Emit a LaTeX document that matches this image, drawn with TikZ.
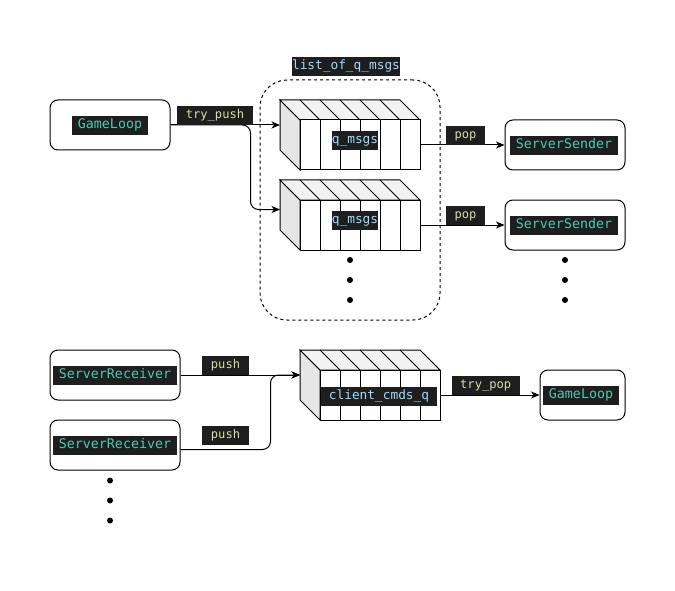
\documentclass[tikz,border=0pt]{standalone}
\usepackage{fontspec}
\newfontfamily\codefont{DejaVu Sans Mono}
\usetikzlibrary{arrows.meta,calc}
\definecolor{codebg}{HTML}{1E1E1E}
\definecolor{typecol}{HTML}{4EC9B0}
\definecolor{varcol}{HTML}{9CDCFE}
\definecolor{funcol}{HTML}{DCDCAA}
\definecolor{topface}{HTML}{F2F2F2}
\definecolor{sideface}{HTML}{E6E6E6}

\tikzset{
  % a message queue drawn as a row of slots seen in perspective
  pics/msgqueue/.style={code={
    \filldraw[fill=sideface] (0,0) -- (20,20) -- (20,70) -- (0,50) -- cycle;
    \filldraw[fill=topface] (0,0) -- (120,0) -- (140,20) -- (20,20) -- cycle;
    \foreach \k in {1,...,5} \draw (20*\k,0) -- (20*\k+20,20);
    \filldraw[fill=white] (20,20) rectangle (140,70);
    \foreach \k in {1,...,5} \draw (20*\k+20,20) -- (20*\k+20,70);
    \coordinate (-in) at (0,25);
    \coordinate (-out) at (140,45);
  }},
  procbox/.style={draw, rounded corners=8pt, minimum width=#1, minimum height=50pt,
    inner sep=0pt, fill=white},
  groupbox/.style={draw, dashed, dash pattern=on 3pt off 3pt, rounded corners=27pt,
    minimum width=180pt, minimum height=240pt, inner sep=0pt},
  tag/.style={fill=codebg, inner ysep=0pt, minimum height=19pt,
    text height=9.5pt, text depth=2.6pt},
  typetag/.style={tag, text=typecol, inner xsep=6pt,
    font=\codefont\fontsize{13.3}{16}\selectfont},
  vartag/.style={tag, text=varcol, inner xsep=0pt,
    font=\codefont\fontsize{12.8}{15}\selectfont},
  calltag/.style={tag, text=funcol, inner xsep=8.5pt,
    font=\codefont\fontsize{12.1}{15}\selectfont},
  arr/.style={-{Stealth[length=8.5pt,width=7pt,inset=2.5pt]}},
  dot/.style={circle, fill=black, inner sep=0pt, minimum size=6pt},
}

\begin{document}
\begin{tikzpicture}[x=1pt, y=-1pt, line width=1pt]
\useasboundingbox[fill=white] (0,0) rectangle (675,591);

% --- outgoing side: game loop feeding per-client queues ---
\node[groupbox] (grp) at (350,200) {};
\node[vartag] (grptxt) at (346,66.5) {list\_of\_q\_msgs};

\pic (qa) at (280,100) {msgqueue};
\pic (qb) at (280,180) {msgqueue};
\node[vartag] (qatxt) at (355,140.3) {q\_msgs};
\node[vartag] (qbtxt) at (355,220.3) {q\_msgs};

\node[procbox=120pt] (gl1) at (110,125) {};
\node[typetag] (gl1txt) at (110,125.5) {GameLoop};

\node[procbox=120pt] (ss1) at (565,145) {};
\node[typetag] (ss1txt) at (564,145.5) {ServerSender};
\node[procbox=120pt] (ss2) at (565,225) {};
\node[typetag] (ss2txt) at (564,225.5) {ServerSender};

\draw[arr] (gl1.east) -- (qa-in);
\draw[arr, rounded corners=8pt] (gl1.east) -- ++(80,0) |- ([yshift=-4.5pt]qb-in);
\draw[arr] (qa-out) -- (ss1.west);
\draw[arr] (qb-out) -- (ss2.west);

\node[calltag] (lpush) at (215,115.5) {try\_push};
\node[calltag] (lpop1) at (465.5,135.3) {pop};
\node[calltag] (lpop2) at (465.5,215.3) {pop};

\node[dot] (qd1) at (350,260) {};
\node[dot] (qd2) at (350,280) {};
\node[dot] (qd3) at (350,300) {};
\node[dot] (sd1) at (565,260) {};
\node[dot] (sd2) at (565,280) {};
\node[dot] (sd3) at (565,300) {};

% --- incoming side: receivers feeding the command queue ---
\pic (qc) at (300,350) {msgqueue};
\node[vartag, inner xsep=7.5pt] (qctxt) at (379,396.3) {client\_cmds\_q};

\node[procbox=130pt] (sr1) at (115,375) {};
\node[typetag] (sr1txt) at (115,375.5) {ServerReceiver};
\node[procbox=130pt] (sr2) at (115,445) {};
\node[typetag] (sr2txt) at (115,445.5) {ServerReceiver};

\node[procbox=85pt] (gl2) at (582.5,395) {};
\node[typetag] (gl2txt) at (581,395.5) {GameLoop};

\draw[arr] (sr1.east) -- (qc-in);
\draw[arr, rounded corners=8pt] ([yshift=-4.5pt]sr2.east) -- ++(90,0) |- (qc-in);
\draw[arr] (qc-out) -- (gl2.west);

\node[calltag] (lpsh1) at (225.5,365.3) {push};
\node[calltag] (lpsh2) at (225.5,435.5) {push};
\node[calltag] (ltpop) at (485.7,385.5) {try\_pop};

\node[dot] (rd1) at (110,480.5) {};
\node[dot] (rd2) at (110,500.5) {};
\node[dot] (rd3) at (110,520.5) {};
\end{tikzpicture}
\end{document}
